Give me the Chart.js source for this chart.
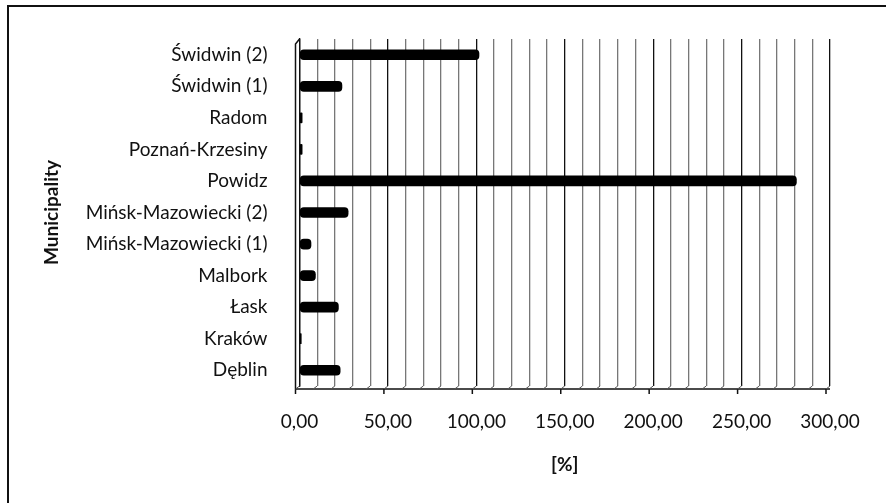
<!DOCTYPE html>
<html>
<head>
<meta charset="utf-8">
<script src="https://cdn.jsdelivr.net/npm/chart.js@4.4.1/dist/chart.umd.min.js"></script>
<style>
  body { margin: 0; background: #fff; }
  #wrap { position: relative; width: 886px; height: 503px; overflow: hidden; }
  #frame { position: absolute; left: 7px; top: 5px; width: 900px; height: 520px; border: 2px solid #111; }
  canvas { position: absolute; left: 0; top: 0; }
</style>
</head>
<body>
<div id="wrap">
  <div id="frame"></div>
  <canvas id="myChart" width="886" height="503"></canvas>
</div>
<script>
// municipalities, bottom to top as in the original sheet
const municipalities = ['Dęblin', 'Kraków', 'Łask', 'Malbork', 'Mińsk-Mazowiecki (1)',
    'Mińsk-Mazowiecki (2)', 'Powidz', 'Poznań-Krzesiny', 'Radom', 'Świdwin (1)', 'Świdwin (2)'];
const percentValues = [23, 1, 22, 9, 6.5, 27.5, 281, 1.5, 1.5, 24, 101.5];
const xTickValues = [0, 50, 100, 150, 200, 250, 300];

const fontName = 'Lato';

// draws the 3d floor and side wall like the excel chart
const frame3d = {
    id: 'frame3d',
    beforeDatasetsDraw(chart) {
        const ctx = chart.ctx;
        const a = chart.chartArea;
        const x = chart.scales.x;
        const dx = -4, dy = 3;
        ctx.save();
        ctx.strokeStyle = '#111';
        ctx.lineWidth = 1.5;
        ctx.beginPath();
        ctx.moveTo(a.left + dx, a.bottom + dy);
        ctx.lineTo(a.right, a.bottom + dy);
        ctx.moveTo(a.left + dx, a.bottom + dy + 5);
        ctx.lineTo(a.left + dx, a.top + 5);
        ctx.lineTo(a.left, a.top);
        xTickValues.forEach(v => {
            const px = x.getPixelForValue(v) + dx;
            ctx.moveTo(px, a.bottom + dy);
            ctx.lineTo(px, a.bottom + dy + 5);
        });
        ctx.stroke();
        ctx.lineWidth = 1;
        ctx.strokeStyle = '#555';
        ctx.beginPath();
        for (let v = 0; v <= 300; v += 10) {
            const px = x.getPixelForValue(v);
            ctx.moveTo(px, a.bottom);
            ctx.lineTo(px + dx, a.bottom + dy);
        }
        ctx.stroke();
        ctx.restore();
    }
};

const ctx = document.getElementById('myChart');

new Chart(ctx, {
    type: 'bar',
    data: {
        labels: municipalities,
        datasets: [{
            label: '[%]',
            data: percentValues,
            backgroundColor: '#000',
            barThickness: 10,
            borderRadius: 4,
            borderSkipped: false
        }]
    },
    options: {
        indexAxis: 'y',
        responsive: false,
        animation: false,
        layout: {
            padding: { left: 40, top: 39, right: 56, bottom: 27 }
        },
        plugins: {
            legend: { display: false },
            tooltip: { enabled: false }
        },
        scales: {
            x: {
                min: 0,
                max: 300,
                afterFit: function (scale) { scale.height = 90; },
                ticks: {
                    stepSize: 10,
                    autoSkip: false,
                    maxRotation: 0,
                    padding: 24,
                    color: '#111',
                    font: { family: fontName, size: 19 },
                    callback: function (v) {
                        return xTickValues.includes(v) ? v.toFixed(2).replace('.', ',') : '';
                    }
                },
                grid: {
                    drawTicks: false,
                    color: function (c) {
                        return c.tick && c.tick.value % 50 === 0 ? '#111' : '#777';
                    },
                    lineWidth: 1.3
                },
                border: { display: false },
                title: {
                    display: true,
                    text: '[%]',
                    color: '#111',
                    padding: 0,
                    font: { family: fontName, size: 19, weight: 'bold' }
                }
            },
            y: {
                reverse: true,
                afterFit: function (scale) { scale.width = 259.5; },
                grid: { display: false },
                border: { display: true, color: '#111', width: 1.3 },
                ticks: {
                    padding: 24,
                    color: '#111',
                    font: { family: fontName, size: 19 }
                },
                title: {
                    display: true,
                    text: 'Municipality',
                    color: '#111',
                    padding: 0,
                    font: { family: fontName, size: 19, weight: 'bold' }
                }
            }
        }
    },
    plugins: [frame3d]
});
</script>
</body>
</html>
